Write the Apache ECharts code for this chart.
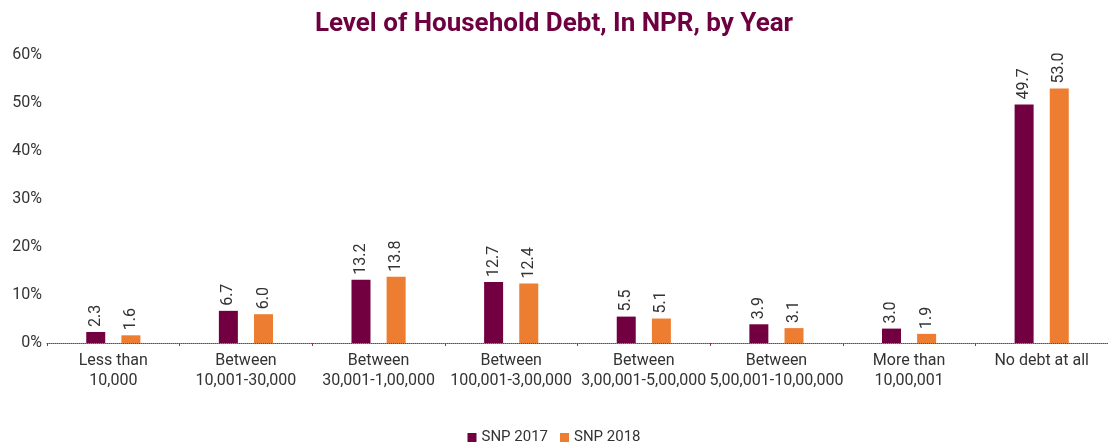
<!DOCTYPE html>
<html><head><meta charset="utf-8">
<script src="https://cdn.jsdelivr.net/npm/echarts@6/dist/echarts.min.js"></script>
<style>html,body{margin:0;padding:0;background:#fff}#c{width:1108px;height:446px}</style>
</head><body><div id="c"></div>
<script>
const categories = ['Less than\n10,000','Between\n10,001-30,000','Between\n30,001-1,00,000','Between\n100,001-3,00,000','Between\n3,00,001-5,00,000','Between\n5,00,001-10,00,000','More than\n10,00,001','No debt at all'];
const snp2017 = [2.3, 6.7, 13.2, 12.7, 5.5, 3.9, 3.0, 49.7];
const snp2018 = [1.6, 6.0, 13.8, 12.4, 5.1, 3.1, 1.9, 53.0];
const yTicks = [0, 10, 20, 30, 40, 50, 60];

const chart = echarts.init(document.getElementById('c'), null, {renderer:'canvas'});
const font = 'Roboto, "Liberation Sans", sans-serif';
const lbl = {show:true, position:'top', rotate:90, align:'left', verticalAlign:'middle', distance:5,
  formatter: p => p.value.toFixed(1), fontSize:16, color:'#333', fontFamily:font};
chart.setOption({
  animation:false,
  title:{text:'Level of Household Debt, In NPR, by Year', left:'center', top:6,
    textStyle:{fontFamily:font, fontWeight:'bold', fontSize:26, color:'#6e0040'}},
  grid:{left:47, top:55, width:1072, height:288},
  legend:{bottom:-4, left:'center', itemWidth:9, itemHeight:9, itemGap:12, icon:'rect',
    textStyle:{fontFamily:font, fontSize:15, color:'#333'}},
  xAxis:{type:'category', data:categories,
    axisLine:{lineStyle:{color:'#9a2a62', type:'dotted', width:1}},
    axisTick:{show:true, length:3, lineStyle:{color:'#9a2a62'}},
    axisLabel:{fontFamily:font, fontSize:16, color:'#333', lineHeight:20, margin:8, interval:0}},
  yAxis:{type:'value', min:yTicks[0], max:yTicks[yTicks.length-1], interval:10,
    splitLine:{show:false}, axisLine:{show:false}, axisTick:{show:false},
    axisLabel:{formatter:'{value}%', fontFamily:font, fontSize:16, color:'#333', margin:5}},
  series:[
    {name:'SNP 2017', type:'bar', data:snp2017, barWidth:19, barGap:'85%', itemStyle:{color:'#720041'}, label:lbl},
    {name:'SNP 2018', type:'bar', data:snp2018, barWidth:19, itemStyle:{color:'#ED7D31'}, label:lbl}
  ]
});
</script></body></html>
